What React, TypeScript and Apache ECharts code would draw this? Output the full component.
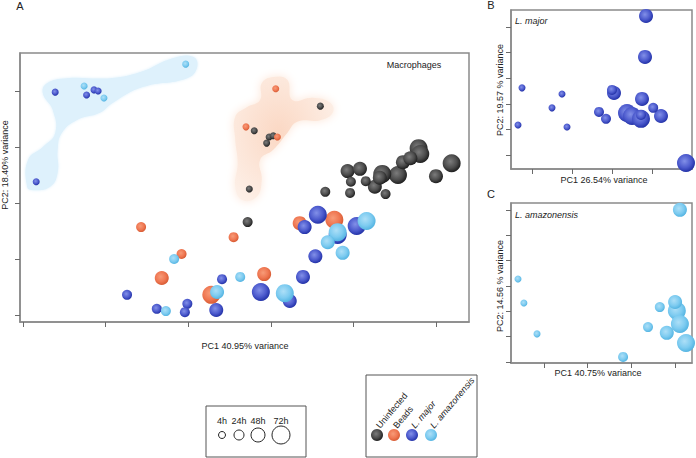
import React, { useEffect, useRef } from 'react';
import * as echarts from 'echarts';

// ---------- data ----------
const TIME_LABELS = ['4h', '24h', '48h', '72h'];
const GROUP_LABELS = ['Uninfected', 'Beads', 'L. major', 'L. amazonensis'];

// Panel A (Macrophages): [PC1, PC2, timeIndex]
const uninfectedA = [
  [5.19, 2.71, 3], [4.79, 2.98, 3], [4.81, 2.875, 3], [4.54, 2.5, 3], [4.35, 2.52, 3],
  [3.93, 2.57, 2], [4.08, 2.61, 2], [4.26, 2.29, 2], [4.32, 2.45, 2], [4.6, 2.73, 2], [4.69, 2.8, 2], [5.0, 2.48, 2],
  [3.66, 2.2, 1], [3.96, 2.18, 1], [3.97, 2.38, 1], [4.15, 2.39, 1], [4.39, 2.16, 1], [2.72, 1.66, 1],
  [3.6, 3.73, 0], [2.8, 3.29, 0], [2.98, 3.18, 0], [3.03, 3.2, 0], [2.95, 3.07, 0], [2.74, 2.25, 0],
];
const beadsA = [
  [2.28, 0.36, 3], [3.77, 1.7, 3],
  [1.68, 0.66, 2], [2.92, 0.73, 2], [3.35, 1.64, 2],
  [1.43, 1.57, 1], [2.55, 1.39, 1], [1.92, 1.09, 1],
  [3.06, 4.04, 0], [2.7, 3.36, 0], [3.08, 3.18, 0],
];
const majorA = [
  [2.88, 0.41, 3], [3.57, 1.79, 3], [3.81, 1.43, 3], [4.04, 1.59, 3],
  [2.34, 0.09, 2], [3.41, 1.57, 2], [3.54, 1.05, 2], [3.39, 0.68, 2], [3.23, 0.25, 2],
  [1.26, 0.36, 1], [1.62, 0.11, 1], [1.99, 0.2, 1], [1.96, 0.05, 1], [2.41, 0.64, 1],
  [0.39, 3.98, 0], [0.86, 4.02, 0], [0.91, 4.0, 0], [0.77, 3.93, 0], [0.16, 2.38, 0],
];
const amazonensisA = [
  [3.17, 0.39, 3], [3.81, 1.48, 3], [4.16, 1.68, 3],
  [2.35, 0.41, 2], [3.69, 1.3, 2], [3.87, 1.11, 2],
  [1.83, 1.0, 1], [1.73, 0.07, 1], [2.63, 0.68, 1],
  [0.74, 4.09, 0], [0.98, 3.875, 0], [1.97, 4.48, 0],
];

// Shaded regions in panel A (PC1, PC2 outline)
const earlyParasiteRegion = [
  [0.05, 2.29], [0.06, 2.77], [0.24, 3.0], [0.39, 3.25], [0.36, 3.66], [0.24, 3.96], [0.29, 4.14],
  [0.53, 4.23], [1.05, 4.23], [1.42, 4.34], [1.82, 4.59], [2.06, 4.61], [2.11, 4.43], [1.99, 4.23],
  [1.45, 4.07], [1.09, 3.79], [0.93, 3.61], [0.65, 3.48], [0.47, 3.25], [0.42, 2.95], [0.42, 2.54],
  [0.33, 2.29], [0.12, 2.23],
];
const earlyControlRegion = [
  [3.03, 4.25], [3.2, 4.2], [3.26, 3.84], [3.51, 3.88], [3.72, 3.79], [3.75, 3.61], [3.6, 3.48],
  [3.32, 3.45], [3.2, 3.25], [3.03, 2.95], [2.87, 2.77], [2.89, 2.41], [2.83, 2.11], [2.66, 2.05],
  [2.57, 2.29], [2.6, 2.71], [2.57, 3.13], [2.57, 3.54], [2.71, 3.71], [2.87, 3.84], [2.89, 4.14],
];

// Panel B (L. major)
const majorB = [
  [2.375, 1.64, 3], [2.5, 1.52, 3], [2.725, 1.41, 3], [3.85, -0.31, 3],
  [2.05, 2.42, 2], [2.75, 2.19, 2], [3.225, 1.52, 2], [2.85, 5.43, 2], [2.825, 3.83, 2],
  [1.675, 1.68, 1], [1.85, 1.41, 1], [2.0, 2.54, 1], [2.725, 1.56, 1], [3.03, 1.84, 1],
  [-0.25, 2.62, 0], [-0.35, 1.17, 0], [0.5, 1.84, 0], [0.75, 2.38, 0], [0.875, 1.09, 0],
];

// Panel C (L. amazonensis)
const amazonensisC = [
  [3.04, 2.02, 3], [3.11, 1.5, 3], [3.25, 0.75, 3],
  [3.11, 6.01, 2], [3.0, 2.37, 2], [2.81, 1.15, 2],
  [1.81, 0.2, 1], [2.38, 1.38, 1], [2.65, 2.17, 1],
  [-0.595, 3.28, 0], [-0.46, 2.33, 0], [-0.16, 1.11, 0],
];

const ticksA_x = [0, 1, 2, 3, 4, 5];
const ticksA_y = [0, 1, 2, 3, 4];
const ticksB_x = [0, 1, 2, 3];
const ticksB_y = [0, 1, 2, 3, 4, 5];
const ticksC_x = [0, 1, 2, 3];
const ticksC_y = [0, 1, 2, 3, 4, 5, 6];

// ---------- styles ----------
const SIZES = [7, 10, 14, 18];
const FONT = 'Liberation Sans, Arial, sans-serif';
const AXIS_COLOR = '#8a8a8a';

const sphere = (c0: string, c1: string, c2: string) => ({
  type: 'radial', x: 0.42, y: 0.4, r: 0.62,
  colorStops: [
    { offset: 0, color: c0 },
    { offset: 0.6, color: c1 },
    { offset: 1, color: c2 },
  ],
});
const GROUP_COLORS = [
  sphere('#7c7c7c', '#4c4c4c', '#1c1c1c'),
  sphere('#f79b78', '#ef7752', '#d65a32'),
  sphere('#8290e8', '#4c5acd', '#2130a6'),
  sphere('#addff7', '#7dcbf0', '#52b3e1'),
];

function axisPair(grid: number, xr: number[], yr: number[], xt: number[], yt: number[]) {
  const common = (ticks: number[]) => ({
    type: 'value',
    gridIndex: grid,
    axisLine: { show: true, onZero: false, lineStyle: { color: AXIS_COLOR, width: 1.5 } },
    axisTick: { show: true, inside: false, length: 5, customValues: ticks, lineStyle: { color: '#6a6a6a', width: 1 } },
    axisLabel: { show: false, customValues: ticks },
    splitLine: { show: false },
  });
  return {
    x: { ...common(xt), min: xr[0], max: xr[1] },
    y: { ...common(yt), min: yr[0], max: yr[1] },
  };
}

function scatter(data: number[][], color: any, grid: number) {
  return {
    type: 'scatter',
    xAxisIndex: grid,
    yAxisIndex: grid,
    data,
    clip: false,
    symbol: 'circle',
    symbolSize: (v: number[]) => SIZES[v[2]],
    itemStyle: { color, opacity: 1 },
    z: 3,
  };
}

function region(outline: number[][], fill: any, blur: number, shadow: string) {
  return {
    type: 'custom',
    xAxisIndex: 0,
    yAxisIndex: 0,
    z: 1,
    silent: true,
    clip: false,
    data: [outline[0]],
    renderItem: (_p: any, api: any) => ({
      type: 'polygon',
      shape: { points: outline.map((pt) => api.coord(pt)), smooth: 0.45 },
      style: { fill, shadowBlur: blur, shadowColor: shadow },
    }),
  };
}

const txt = (text: string, x: number, y: number, extra: any = {}, rot = 0) => ({
  type: 'text', x, y, rotation: rot, z: 10,
  style: {
    text, fill: '#222', font: `${extra.italic ? 'italic ' : ''}${extra.size || 9}px ${FONT}`,
    align: extra.align || 'center', verticalAlign: extra.va || 'middle',
  },
});

export default function App() {
  const ref = useRef<HTMLDivElement>(null);
  useEffect(() => {
    if (!ref.current) return;
    const chart = echarts.init(ref.current, undefined, { renderer: 'svg' });

    const a = axisPair(0, [-0.036, 5.4], [-0.125, 4.679], ticksA_x, ticksA_y);
    const b = axisPair(1, [-0.525, 4.0], [-0.547, 5.66], ticksB_x, ticksB_y);
    const c = axisPair(2, [-0.755, 3.387], [-0.04, 6.28], ticksC_x, ticksC_y);

    const gridStyle = { show: true, borderColor: AXIS_COLOR, borderWidth: 1.5, backgroundColor: 'transparent' };

    const orangeFill = new echarts.graphic.RadialGradient(0.45, 0.45, 0.65, [
      { offset: 0, color: '#fbd8c4' },
      { offset: 1, color: '#fdf0e8' },
    ]);

    const graphics: any[] = [
      txt('A', 20, 6, { size: 11 }),
      txt('B', 491, 5, { size: 11 }),
      txt('C', 491, 194, { size: 11 }),
      txt('Macrophages', 414, 65),
      txt('L. major', 515, 21, { italic: true, align: 'left' }),
      txt('L. amazonensis', 515, 215, { italic: true, align: 'left' }),
      txt('PC1 40.95% variance', 245, 346),
      txt('PC2: 18.40% variance', 5, 165, {}, Math.PI / 2),
      txt('PC1 26.54% variance', 604, 180),
      txt('PC2: 19.57 % variance', 500, 90, {}, Math.PI / 2),
      txt('PC1 40.75% variance', 598, 373),
      txt('PC2: 14.56 % variance', 500, 286, {}, Math.PI / 2),
      // size legend
      { type: 'rect', shape: { x: 206, y: 406, width: 100, height: 51 }, style: { fill: '#fff', stroke: '#555', lineWidth: 1 } },
      // colour legend
      { type: 'rect', shape: { x: 366, y: 375, width: 111, height: 82 }, style: { fill: '#fff', stroke: '#555', lineWidth: 1 } },
    ];
    const sizeX = [222, 239, 258, 281];
    TIME_LABELS.forEach((t, i) => {
      graphics.push(txt(t, sizeX[i], 421));
      graphics.push({
        type: 'circle', z: 10,
        shape: { cx: sizeX[i], cy: 435, r: SIZES[i] / 2 },
        style: { fill: '#fff', stroke: '#222', lineWidth: 1 },
      });
    });
    const colX = [377, 394, 412, 431];
    GROUP_LABELS.forEach((g, i) => {
      graphics.push({
        type: 'circle', z: 10,
        shape: { cx: colX[i], cy: 435, r: 6 },
        style: { fill: new echarts.graphic.RadialGradient(0.42, 0.4, 0.62, (GROUP_COLORS[i] as any).colorStops) },
      });
      graphics.push(txt(g, colX[i] + 1, 427, { italic: i >= 2, align: 'left', va: 'middle' }, (50 * Math.PI) / 180));
    });

    chart.setOption({
      animation: false,
      backgroundColor: '#fff',
      grid: [
        { left: 20, top: 53, width: 449, height: 269, ...gridStyle },
        { left: 511, top: 10, width: 181, height: 159, ...gridStyle },
        { left: 511, top: 203, width: 181, height: 160, ...gridStyle },
      ],
      xAxis: [a.x, b.x, c.x],
      yAxis: [a.y, b.y, c.y],
      series: [
        region(earlyParasiteRegion, '#def1fc', 3, '#def1fc'),
        region(earlyControlRegion, orangeFill, 10, '#fde6d8'),
        scatter(uninfectedA, GROUP_COLORS[0], 0),
        scatter(beadsA, GROUP_COLORS[1], 0),
        scatter(majorA, GROUP_COLORS[2], 0),
        scatter(amazonensisA, GROUP_COLORS[3], 0),
        scatter(majorB, GROUP_COLORS[2], 1),
        scatter(amazonensisC, GROUP_COLORS[3], 2),
      ],
      graphic: graphics,
    });
    return () => chart.dispose();
  }, []);
  return <div ref={ref} style={{ position: 'absolute', left: 0, top: 0, width: 696, height: 458 }} />;
}
